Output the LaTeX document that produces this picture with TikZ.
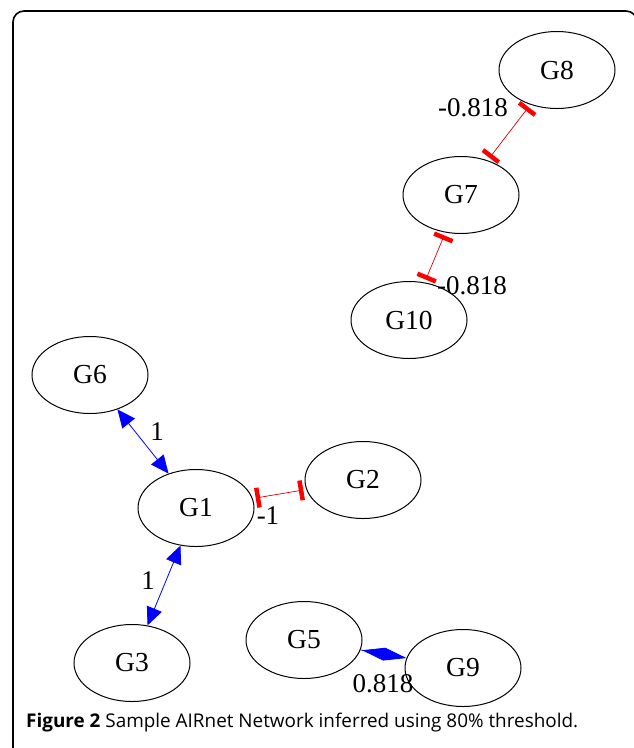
\documentclass[tikz,border=0pt]{standalone}
\usepackage{fontspec}
\setmainfont{Liberation Serif}
\newfontfamily\capfont{Open Sans}
\usetikzlibrary{shapes.geometric,arrows.meta}

\tikzset{
  gene/.style={draw=black, line width=1pt, ellipse, minimum width=116pt,
    minimum height=77pt, inner sep=0pt, font=\fontsize{27.5}{30}\selectfont},
  weight/.style={font=\fontsize{27}{30}\selectfont, inner sep=0pt},
  inhib/.style={draw=red!85!black, line width=0.7pt,
    {Bar[width=20pt,line width=4.5pt,red]}-{Bar[width=20pt,line width=4.5pt,red]},
    shorten <=3pt, shorten >=3pt},
  activ/.style={draw=blue, line width=0.8pt,
    {Triangle[length=18pt,width=16pt]}-{Triangle[length=18pt,width=16pt]}},
  assoc/.style={draw=blue, line width=0.8pt, -{Diamond[length=45pt,width=13pt]}},
}

\begin{document}
\begin{tikzpicture}[x=1pt, y=-1pt]
\useasboundingbox (0,0) rectangle (634,748);
\begin{scope}
  \clip (0,0) rectangle (634,748);
  \draw[line width=1.6pt, rounded corners=11pt] (13,770) -- (13,11) -- (637,11) -- (637,770);
\end{scope}

% gene nodes
\node[gene] (G8)  at (557,70)  {G8};
\node[gene] (G7)  at (461,195) {G7};
\node[gene] (G10) at (409,320) {G10};
\node[gene] (G6)  at (90,375)  {G6};
\node[gene] (G2)  at (363,480) {G2};
\node[gene] (G1)  at (196,508) {G1};
\node[gene] (G3)  at (132,663) {G3};
\node[gene] (G5)  at (304,640) {G5};
\node[gene] (G9)  at (463,668) {G9};

% interactions
\draw[inhib] (G8) -- (G7);
\draw[inhib] (G7) -- (G10);
\draw[inhib] (G1) -- (G2);
\draw[activ] (G6) -- (G1);
\draw[activ] (G1) -- (G3);
\draw[assoc] (G5) -- (G9);

% weights
\node[weight] (w87)  at (473,108) {-0.818};
\node[weight] (w710) at (472,286) {-0.818};
\node[weight] (w61)  at (157,432) {1};
\node[weight] (w12)  at (268,516) {-1};
\node[weight] (w13)  at (148,581) {1};
\node[weight] (w59)  at (383,684) {0.818};

% caption
\node[anchor=base west, inner sep=0pt, font=\capfont\fontsize{18.9}{22}\selectfont] (cap) at (26,727)
  {\textbf{Figure 2} Sample AIRnet Network inferred using 80\% threshold.};
\end{tikzpicture}
\end{document}
